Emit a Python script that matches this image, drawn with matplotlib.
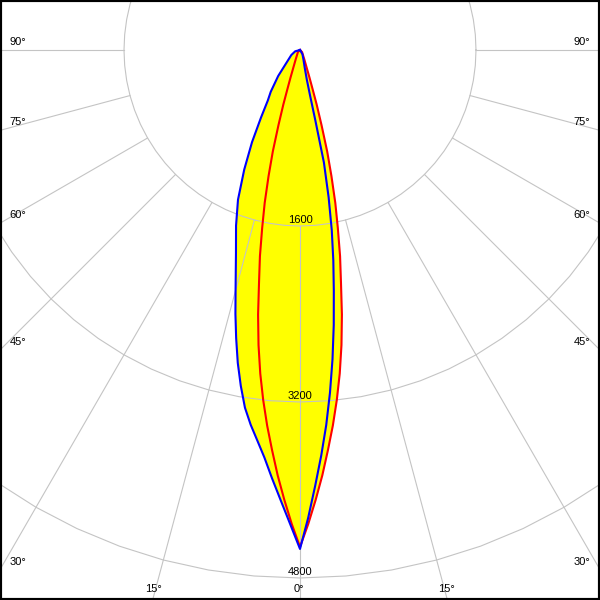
import matplotlib.pyplot as plt
import numpy as np

# luminous intensity (cd) against angle from nadir (deg)
c0_angles = [0, 1, 2, 3, 4, 5, 6, 7, 8, 9, 10, 11, 12, 12.3, 12.5, 13, 15,
             20, 30, 90]
c0_cd = [4536, 4254, 3963, 3691, 3418, 3127, 2827, 2518, 2209, 1936, 1663,
         1364, 1045, 654, 409, 273, 164, 91, 45, 0]
c180_angles = [0, 1.25, 2.5, 3.75, 5, 6.25, 7.5, 8.75, 10, 11.25, 12.5, 13.75,
               15, 17.5, 20, 22.5, 25, 27.5, 30, 32.5, 35, 40, 45, 60, 75, 90]
c180_cd = [4536, 4300, 4090, 3900, 3718, 3570, 3436, 3290, 3100, 2900, 2682,
           2470, 2263, 1936, 1700, 1473, 1200, 945, 709, 545, 464, 309, 191,
           91, 45, 0]
c90_angles = [0, 1, 2, 3, 4, 5, 6, 7, 8, 9, 10, 11, 12, 13, 14, 15, 16, 17,
              18, 19, 20, 25, 30, 45, 90]
c90_cd = [4518, 4309, 4091, 3873, 3645, 3427, 3200, 2964, 2709, 2436, 2145,
          1909, 1654, 1427, 1182, 955, 709, 518, 355, 264, 200, 91, 55, 27, 0]
c270_angles = c90_angles
c270_cd = c90_cd

rings = [1600, 3200, 4800]
spokes = [0, 15, 30, 45, 60, 75, 90]

PX = 1600 / 176  # cd per pixel
FONT = dict(family="Liberation Sans", fontsize=8, color="black")


def to_xy(angles, cd, side):
    a = np.radians(np.asarray(angles, dtype=float))
    r = np.asarray(cd, dtype=float)
    return side * r * np.sin(a), -r * np.cos(a)


def curve(right_a, right_cd, left_a, left_cd):
    xr, yr = to_xy(right_a, right_cd, 1)
    xl, yl = to_xy(left_a, left_cd, -1)
    return np.concatenate([xr[::-1], xl]), np.concatenate([yr[::-1], yl])


fig = plt.figure(figsize=[6, 6], dpi=100)
ax = fig.add_axes([0, 0, 1, 1])
ax.set_xlim(-300 * PX, 300 * PX)
ax.set_ylim(-550 * PX, 50 * PX)
ax.set_xticks([])
ax.set_yticks([])
for s in ax.spines.values():
    s.set_linewidth(3)
    s.set_color("black")

bx, by = curve(c0_angles, c0_cd, c180_angles, c180_cd)
rx, ry = curve(c90_angles, c90_cd, c270_angles, c270_cd)
ax.fill(bx, by, color="#ffff00", lw=0, zorder=1)
ax.fill(rx, ry, color="#ffff00", lw=0, zorder=1)

grid = "#c4c4c4"
t = np.linspace(0, 2 * np.pi, 73)
for r in rings:
    ax.plot(r * np.cos(t), r * np.sin(t), color=grid, lw=0.8, zorder=2)
    ax.text(0, -r + 6 * PX, str(r), ha="center", va="center", zorder=5, **FONT)

for a in spokes:
    ar = np.radians(a)
    for side in (1, -1):
        ax.plot([side * 1600 * np.sin(ar), side * 9000 * np.sin(ar)],
                [-1600 * np.cos(ar), -9000 * np.cos(ar)],
                color=grid, lw=0.8, zorder=2)
        # where the spoke meets the frame
        if a > 0 and 300 / np.tan(ar) < 550:
            lx = side * 282 * PX
            ly = -300 / np.tan(ar) * PX + 8 * PX
        else:
            lx = side * (550 * np.tan(ar) - 1) * PX
            ly = -539 * PX
        ax.text(lx, ly, f"{a}°", ha="center", va="center", zorder=5, **FONT)
        if a == 0:
            break

ax.plot(rx, ry, color="#ff0000", lw=1.5, zorder=3)
ax.plot(bx, by, color="#0000ff", lw=1.5, zorder=4)

fig.savefig("out.png", dpi=100)
plt.close()
